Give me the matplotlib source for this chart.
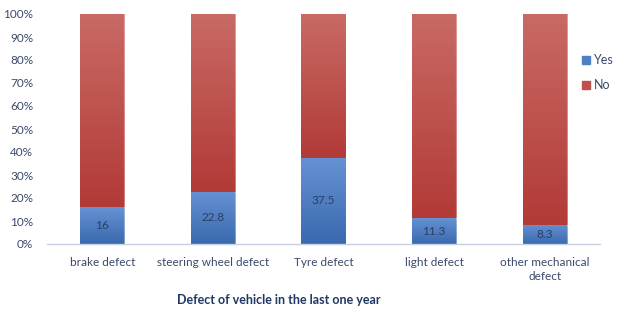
import numpy as np
import matplotlib
matplotlib.use("Agg")
import matplotlib.pyplot as plt
from matplotlib.colors import LinearSegmentedColormap
from matplotlib.patches import Patch

categories = ["brake defect", "steering wheel defect", "Tyre defect",
              "light defect", "other mechanical\ndefect"]
yes_vals = [16, 22.8, 37.5, 11.3, 8.3]
no_vals = [100 - v for v in yes_vals]
yticks = [0, 10, 20, 30, 40, 50, 60, 70, 80, 90, 100]

plt.rcParams['font.family'] = ['Lato', 'DejaVu Sans']
text_col = "#3a4a6a"

fig = plt.figure(figsize=(6.28, 3.23), dpi=100)
ax = fig.add_axes([47/628, (323-244)/323, (600-47)/628, (244-14)/323])

x = np.arange(len(categories))
w = 0.4
yes_bars = ax.bar(x, yes_vals, w, color="#4a7cc0", edgecolor="none", label="Yes")
no_bars = ax.bar(x, no_vals, w, bottom=yes_vals, color="#bf4a46", edgecolor="none", label="No")

# vertical gradient fill: lighter at the top of each segment
blue_cmap = LinearSegmentedColormap.from_list("b", ["#3a69ae", "#6592d3"])
red_cmap = LinearSegmentedColormap.from_list("r", ["#b23a37", "#c96a65"])
grad = np.linspace(0, 1, 256).reshape(-1, 1)
for bars, cmap in ((yes_bars, blue_cmap), (no_bars, red_cmap)):
    for b in bars:
        x0, y0 = b.get_x(), b.get_y()
        x1, y1 = x0 + b.get_width(), y0 + b.get_height()
        im = ax.imshow(grad, cmap=cmap, origin="lower", aspect="auto",
                       extent=[x0, x1, y0, y1], zorder=2)
        im.set_clip_path(b)
        # thin light edge on the right side
        ax.plot([x1, x1], [y0, y1], color="#ffffff", alpha=0.35, lw=0.8, zorder=3)

for xi, v in zip(x, yes_vals):
    ax.text(xi, v / 2, f"{v:g}", ha="center", va="center", fontsize=8.5,
            color="#2b3f66", zorder=4)

ax.set_xlim(-0.5, len(categories) - 0.5)
ax.set_ylim(0, 100)
ax.set_yticks(yticks)
ax.set_yticklabels([f"{t}%" for t in yticks], fontsize=8.5, color=text_col)
ax.set_xticks(x)
ax.set_xticklabels(categories, fontsize=8.5, color=text_col, linespacing=1.35)
ax.tick_params(axis="both", length=0)
ax.tick_params(axis="x", pad=9)
ax.tick_params(axis="y", pad=10)
for s in ("top", "right", "left"):
    ax.spines[s].set_visible(False)
ax.spines["bottom"].set_color("#c5d0e2")
ax.spines["bottom"].set_linewidth(1.0)

handles = [Patch(color="#4f80c4", label="Yes"), Patch(color="#c0504d", label="No")]
fig.legend(handles=handles, loc="upper left", bbox_to_anchor=(571/628, 1 - 43/323),
           frameon=False, fontsize=9, handlelength=0.6, handleheight=0.6,
           handletextpad=0.3, labelspacing=1.05, labelcolor=text_col)

fig.text(279/628, 1 - 300/323, "Defect of vehicle in the last one year",
         ha="center", va="center", fontsize=9, fontweight="bold", color="#1f3864")

fig.savefig("out.png", dpi=100)
